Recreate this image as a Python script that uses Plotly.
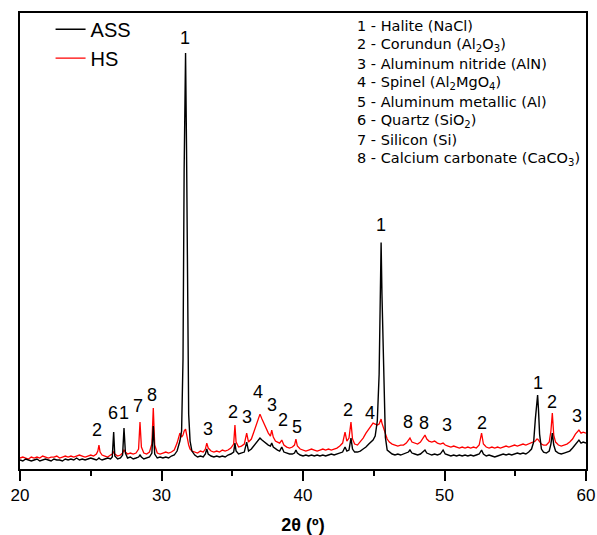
import plotly.graph_objects as go

two_theta = [
    20.0, 20.2, 20.4, 20.6, 20.8, 21.0, 21.2, 21.4, 21.6, 21.8,
    22.0, 22.2, 22.4, 22.6, 22.8, 23.0, 23.2, 23.4, 23.6, 23.8,
    24.0, 24.2, 24.4, 24.6, 24.8, 25.0, 25.2, 25.4, 25.5, 25.58,
    25.66, 25.8, 26.0, 26.2, 26.4, 26.52, 26.62, 26.7, 26.9, 27.1,
    27.25, 27.35, 27.45, 27.6, 27.8, 28.0, 28.2, 28.38, 28.48, 28.58,
    28.75, 28.95, 29.15, 29.32, 29.42, 29.52, 29.7, 29.9, 30.1, 30.3,
    30.5, 30.7, 30.9, 31.1, 31.3, 31.42, 31.52, 31.6, 31.7, 31.77,
    31.84, 31.92, 32.02, 32.15, 32.35, 32.55, 32.75, 32.95, 33.1, 33.2,
    33.3, 33.5, 33.7, 33.9, 34.1, 34.3, 34.5, 34.7, 34.9, 35.1,
    35.19, 35.27, 35.45, 35.65, 35.85, 36.02, 36.15, 36.35, 36.55, 36.75,
    36.96, 37.1, 37.25, 37.4, 37.55, 37.7, 37.79, 37.9, 38.05, 38.2,
    38.35, 38.5, 38.65, 38.85, 39.05, 39.25, 39.4, 39.5, 39.6, 39.8,
    40.0, 40.2, 40.4, 40.6, 40.8, 41.0, 41.2, 41.4, 41.6, 41.8,
    42.0, 42.2, 42.4, 42.6, 42.8, 42.97, 43.1, 43.25, 43.39, 43.5,
    43.65, 43.85, 44.05, 44.25, 44.45, 44.65, 44.8, 44.95, 45.1, 45.25,
    45.38, 45.45, 45.52, 45.58, 45.65, 45.72, 45.82, 45.95, 46.1, 46.3,
    46.5, 46.7, 46.9, 47.1, 47.3, 47.45, 47.56, 47.7, 47.9, 48.1,
    48.3, 48.5, 48.62, 48.75, 48.9, 49.1, 49.3, 49.5, 49.7, 49.9,
    50.05, 50.25, 50.45, 50.65, 50.85, 51.05, 51.25, 51.45, 51.65, 51.85,
    52.05, 52.25, 52.45, 52.62, 52.75, 52.95, 53.15, 53.35, 53.55, 53.75,
    53.95, 54.15, 54.35, 54.55, 54.75, 54.95, 55.15, 55.35, 55.55, 55.75,
    55.95, 56.15, 56.3, 56.42, 56.52, 56.58, 56.64, 56.72, 56.85, 57.0,
    57.2, 57.4, 57.52, 57.62, 57.72, 57.85, 58.05, 58.25, 58.45, 58.65,
    58.85, 59.05, 59.25, 59.4, 59.5, 59.65, 59.8, 60.0,
]

ass = [
    9, 8, 10, 9, 8, 9, 10, 8, 9, 10,
    9, 8, 10, 9, 9, 8, 10, 9, 10, 9,
    11, 9, 10, 9, 10, 11, 10, 9, 10, 11,
    10, 9, 10, 11, 10, 12, 37, 13, 10, 11,
    14, 41, 16, 11, 12, 10, 11, 12, 14, 12,
    10, 11, 12, 16, 43, 15, 11, 12, 11, 12,
    11, 13, 14, 18, 28, 38, 110, 300, 417, 320,
    140, 55, 28, 18, 14, 12, 13, 12, 15, 20,
    15, 13, 12, 13, 12, 13, 12, 14, 15, 17,
    26, 18, 15, 16, 17, 27, 18, 20, 24, 28,
    31, 29, 27, 25, 24, 23, 26, 22, 20, 19,
    18, 22, 17, 16, 15, 15, 16, 19, 16, 14,
    13, 14, 13, 14, 13, 14, 13, 14, 13, 14,
    15, 14, 15, 16, 17, 22, 18, 19, 31, 20,
    17, 17, 18, 20, 22, 25, 27, 29, 33, 48,
    95, 190, 227, 175, 130, 70, 32, 19, 17, 15,
    14, 15, 14, 15, 16, 17, 19, 16, 15, 14,
    15, 17, 19, 16, 15, 14, 15, 14, 15, 19,
    15, 14, 13, 14, 13, 14, 13, 14, 13, 14,
    13, 14, 15, 19, 15, 13, 14, 13, 12, 13,
    14, 15, 14, 15, 14, 15, 16, 15, 16, 15,
    17, 20, 27, 50, 72, 74, 60, 35, 20, 17,
    16, 18, 25, 36, 24, 18, 16, 15, 16, 17,
    18, 21, 25, 27, 29, 26, 27, 26,
]

hs = [
    11, 12, 11, 10, 12, 11, 12, 11, 13, 12,
    11, 12, 12, 13, 11, 12, 13, 12, 13, 12,
    13, 14, 13, 12, 13, 14, 13, 15, 18, 24,
    17, 14, 13, 12, 14, 15, 17, 15, 13, 14,
    16, 19, 17, 15, 16, 15, 16, 20, 47, 22,
    16, 15, 17, 25, 61, 24, 16, 15, 16, 17,
    16, 17, 19, 26, 36, 32, 34, 38, 40, 36,
    30, 24, 20, 18, 17, 16, 18, 17, 20, 26,
    21, 18, 17, 18, 17, 19, 18, 19, 21, 25,
    44, 27, 22, 23, 25, 36, 27, 30, 38, 47,
    55, 50, 45, 40, 36, 33, 39, 32, 28, 27,
    26, 29, 24, 22, 21, 22, 24, 30, 23, 20,
    19, 18, 19, 20, 19, 18, 19, 20, 19, 20,
    19, 20, 21, 23, 26, 37, 28, 31, 47, 30,
    25, 24, 27, 31, 36, 40, 43, 46, 45, 44,
    45, 47, 50, 46, 43, 40, 35, 30, 27, 25,
    24, 23, 24, 24, 26, 29, 31, 27, 26, 25,
    27, 31, 34, 30, 28, 27, 28, 26, 25, 26,
    24, 23, 22, 23, 22, 21, 22, 21, 22, 21,
    22, 21, 24, 36, 25, 22, 21, 22, 21, 22,
    21, 22, 23, 22, 23, 24, 23, 24, 25, 24,
    25, 26, 27, 28, 30, 30, 29, 27, 25, 24,
    24, 27, 38, 56, 34, 27, 24, 23, 24, 25,
    27, 30, 35, 38, 39, 36, 37, 36,
]

assert len(two_theta) == len(ass) == len(hs), (len(two_theta), len(ass), len(hs))

peak_labels = ["1", "1", "2", "6", "1", "7", "8", "3", "2", "3", "4", "3", "2", "5",
               "2", "4", "8", "8", "3", "2", "1", "2", "3"]
peak_x = [31.66, 45.5, 25.45, 26.55, 27.37, 28.36, 29.31, 33.31, 35.08, 36.02, 36.84,
          37.79, 38.61, 39.6, 43.2, 44.73, 47.44, 48.57, 50.2, 52.63, 56.58, 57.57, 59.39]
peak_y = [432, 245, 39, 56, 56, 63, 74, 40, 57, 52, 77, 64, 49, 42, 59, 56, 47, 46, 44,
          46, 86, 67, 53]

phase_list = [
    "1 - Halite (NaCl)",
    "2 - Corundun (Al<sub>2</sub>O<sub>3</sub>)",
    "3 - Aluminum nitride (AlN)",
    "4 - Spinel (Al<sub>2</sub>MgO<sub>4</sub>)",
    "5 - Aluminum metallic (Al)",
    "6 - Quartz (SiO<sub>2</sub>)",
    "7 - Silicon (Si)",
    "8 - Calcium carbonate (CaCO<sub>3</sub>)",
]

FONT = "Liberation Sans, Arial, sans-serif"
LIST_FONT = "DejaVu Sans, Liberation Sans, sans-serif"

fig = go.Figure()
fig.add_trace(go.Scatter(x=two_theta, y=hs, mode="lines", name="HS",
                         line=dict(color="#ff0000", width=1.3)))
fig.add_trace(go.Scatter(x=two_theta, y=ass, mode="lines", name="ASS",
                         line=dict(color="#000000", width=1.4)))

for t, x, y in zip(peak_labels, peak_x, peak_y):
    fig.add_annotation(x=x, y=y, xref="x", yref="y", text=t, showarrow=False,
                       font=dict(family=FONT, size=18, color="#000000"))

H = 457.0
for i, t in enumerate(phase_list):
    ypx = 25 + i * 19.0
    fig.add_annotation(x=(355 - 20) / 566.0, y=(469 - ypx) / H, xref="paper", yref="paper",
                       text=t, showarrow=False, xanchor="left", yanchor="middle",
                       font=dict(family=LIST_FONT, size=14.5, color="#000000"))

fig.update_layout(
    width=597, height=535,
    margin=dict(l=20, r=11, t=12, b=66),
    paper_bgcolor="white", plot_bgcolor="white",
    font=dict(family=FONT, size=17, color="#000000"),
    showlegend=True,
    legend=dict(x=0.054, y=1.005, xanchor="left", yanchor="top",
                traceorder="reversed", font=dict(family=FONT, size=20),
                bgcolor="rgba(0,0,0,0)", borderwidth=0, tracegroupgap=0),
)
fig.update_xaxes(
    range=[20, 60], tickvals=[20, 30, 40, 50, 60], ticks="outside", ticklen=10, tickwidth=2,
    tickcolor="#000000", showline=True, linewidth=2, linecolor="#000000", mirror=True,
    showgrid=False, zeroline=False, tickfont=dict(size=17), automargin=False,
    minor=dict(tickvals=[25, 35, 45, 55], ticks="outside", ticklen=5, tickwidth=2,
               tickcolor="#000000"),
    title=dict(text="<b>2θ (º)</b>", font=dict(size=18), standoff=16),
)
fig.update_yaxes(
    range=[0, 457], showticklabels=False, ticks="", showline=True, linewidth=2,
    linecolor="#000000", mirror=True, showgrid=False, zeroline=False, automargin=False,
)

fig.write_html("out.html")
